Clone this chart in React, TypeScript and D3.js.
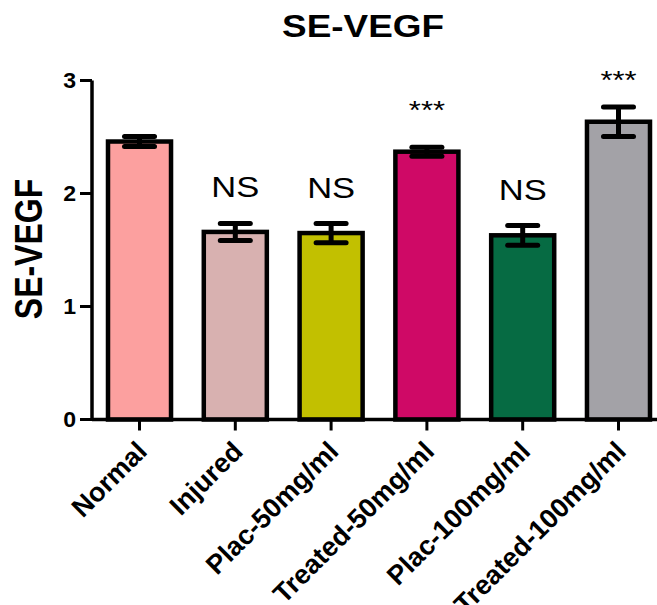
import { scaleBand, scaleLinear } from 'd3'

const categories = ['Normal', 'Injured', 'Plac-50mg/ml', 'Treated-50mg/ml', 'Plac-100mg/ml', 'Treated-100mg/ml']
const means = [2.46, 1.66, 1.65, 2.37, 1.63, 2.635]
const sems = [0.045, 0.075, 0.085, 0.04, 0.087, 0.13]
const colors = ['#FCA09F', '#D8B1B0', '#C2C000', '#CF0966', '#066B43', '#A3A2A7']
const marks = ['', 'NS', 'NS', '***', 'NS', '***']
const yTicks = [0, 1, 2, 3]

const W = 657
const H = 605
const FONT = '"Liberation Sans", Arial, Helvetica, sans-serif'
const SX = 1.19

const App = () => {
  const x = scaleBand<string>().domain(categories).range([92, 666]).paddingInner(0.342).paddingOuter(0.167)
  const y = scaleLinear().domain([0, 3]).range([419.5, 80.5])
  const bw = x.bandwidth()

  return (
    <svg width={W} height={H} style={{ position: 'absolute', left: 0, top: 0, background: '#fff' }}>
      <text transform={`translate(363,37) scale(${SX},1)`} textAnchor="middle" fontFamily={FONT} fontWeight="bold" fontSize={31}>SE-VEGF</text>
      <text transform={`translate(42,249) scale(${SX},1) rotate(-90)`} textAnchor="middle" fontFamily={FONT} fontWeight="bold" fontSize={32}>SE-VEGF</text>

      {categories.map((c, i) => {
        const cx = x(c)! + bw / 2
        const top = y(means[i])
        const hi = y(means[i] + sems[i])
        const lo = y(means[i] - sems[i])
        return (
          <g key={c}>
            <rect x={x(c)} y={top} width={bw} height={y(0) - top} fill={colors[i]} stroke="#000" strokeWidth={4.5} />
            <line x1={cx} x2={cx} y1={hi} y2={lo} stroke="#000" strokeWidth={5} />
            <line x1={cx - 15} x2={cx + 15} y1={hi} y2={hi} stroke="#000" strokeWidth={5} strokeLinecap="round" />
            <line x1={cx - 15} x2={cx + 15} y1={lo} y2={lo} stroke="#000" strokeWidth={5} strokeLinecap="round" />
            {marks[i] && (
              <text
                transform={`translate(${cx},${top - 2 - (marks[i] === 'NS' ? 33 : 31)}) scale(${SX},1)`}
                textAnchor="middle"
                fontFamily={FONT}
                fontSize={marks[i] === 'NS' ? 29 : 26}
              >
                {marks[i]}
              </text>
            )}
            <line x1={cx} x2={cx} y1={y(0)} y2={y(0) + 11} stroke="#000" strokeWidth={3} />
            <text
              transform={`translate(${cx + 9},453) rotate(-45)`}
              textAnchor="end"
              fontFamily={FONT}
              fontWeight="bold"
              fontSize={27}
            >
              {c}
            </text>
          </g>
        )
      })}

      <line x1={92} x2={666} y1={y(0)} y2={y(0)} stroke="#000" strokeWidth={3.5} />
      <line x1={92} x2={92} y1={y(3)} y2={y(0) + 1.5} stroke="#000" strokeWidth={3.5} />
      {yTicks.map(t => (
        <g key={t}>
          <line x1={80} x2={92} y1={y(t)} y2={y(t)} stroke="#000" strokeWidth={3} />
          <text transform={`translate(76,${y(t)}) scale(1.05,1)`} dy="0.36em" textAnchor="end" fontFamily={FONT} fontWeight="bold" fontSize={22}>{t}</text>
        </g>
      ))}
    </svg>
  )
}

export default App
